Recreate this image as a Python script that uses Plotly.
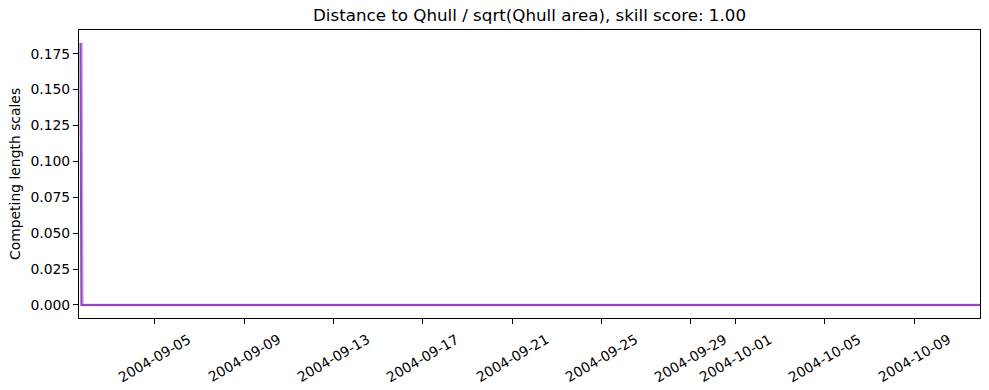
import plotly.graph_objects as go

# Data
dark_times = ["2004-09-01 16:10", "2004-09-01 17:10", "2004-10-11 22:40"]
dark_values = [0.1824, 0.0, 0.0]
light_times = ["2004-09-01 17:20", "2004-09-01 18:20", "2004-10-11 22:40"]
light_values = [0.1824, 0.0, 0.0]

x_range = ["2004-09-01 14:38", "2004-10-11 22:36"]
y_range = [-0.0091, 0.1915]

x_tick_vals = ["2004-09-05", "2004-09-09", "2004-09-13", "2004-09-17", "2004-09-21",
               "2004-09-25", "2004-09-29", "2004-10-01", "2004-10-05", "2004-10-09"]
y_tick_vals = [0.0, 0.025, 0.05, 0.075, 0.1, 0.125, 0.15, 0.175]

title_text = "Distance to Qhull / sqrt(Qhull area), skill score: 1.00"
y_label = "Competing length scales"

FONT = "DejaVu Sans"
W, H = 989, 390
L, R, T, B = 79, 9, 30, 72

fig = go.Figure()
fig.add_trace(go.Scatter(x=light_times, y=light_values, mode="lines",
                         line=dict(color="rgb(200,160,226)", width=2.4),
                         showlegend=False, hoverinfo="skip"))
fig.add_trace(go.Scatter(x=dark_times, y=dark_values, mode="lines",
                         line=dict(color="rgb(148,72,190)", width=2.0),
                         showlegend=False))

annotations = []
for tv in x_tick_vals:
    annotations.append(dict(x=tv, xref="x", y=0, yref="paper", yshift=-10,
                            text=tv, textangle=-30, showarrow=False,
                            xanchor="center", yanchor="top",
                            font=dict(family=FONT, size=13.9, color="black")))
annotations.append(dict(x=(15 - L) / (W - L - R), xref="paper", y=0.5, yref="paper",
                        text=y_label, textangle=-90, showarrow=False,
                        xanchor="center", yanchor="middle",
                        font=dict(family=FONT, size=13.9, color="black")))

fig.update_layout(
    width=W, height=H,
    margin=dict(l=L, r=R, t=T, b=B, pad=0),
    paper_bgcolor="white", plot_bgcolor="white",
    font=dict(family=FONT, size=13.9, color="black"),
    title=dict(text=title_text, x=(L + (W - L - R) / 2) / W, xref="container",
               xanchor="center", y=1 - 15 / H, yref="container", yanchor="middle",
               font=dict(family=FONT, size=16.7, color="black")),
    annotations=annotations,
    xaxis=dict(type="date", range=x_range, tickvals=x_tick_vals, showticklabels=False,
               ticks="outside", ticklen=5, tickwidth=1.1, tickcolor="black",
               showline=True, linecolor="black", linewidth=1.1, mirror=True,
               showgrid=False, zeroline=False),
    yaxis=dict(range=y_range, tickvals=y_tick_vals, tickformat=".3f",
               ticks="outside", ticklen=5, tickwidth=1.1, tickcolor="black",
               showline=True, linecolor="black", linewidth=1.1, mirror=True,
               showgrid=False, zeroline=False,
               tickfont=dict(family=FONT, size=13.9, color="black")),
)

fig.write_html("out.html")
